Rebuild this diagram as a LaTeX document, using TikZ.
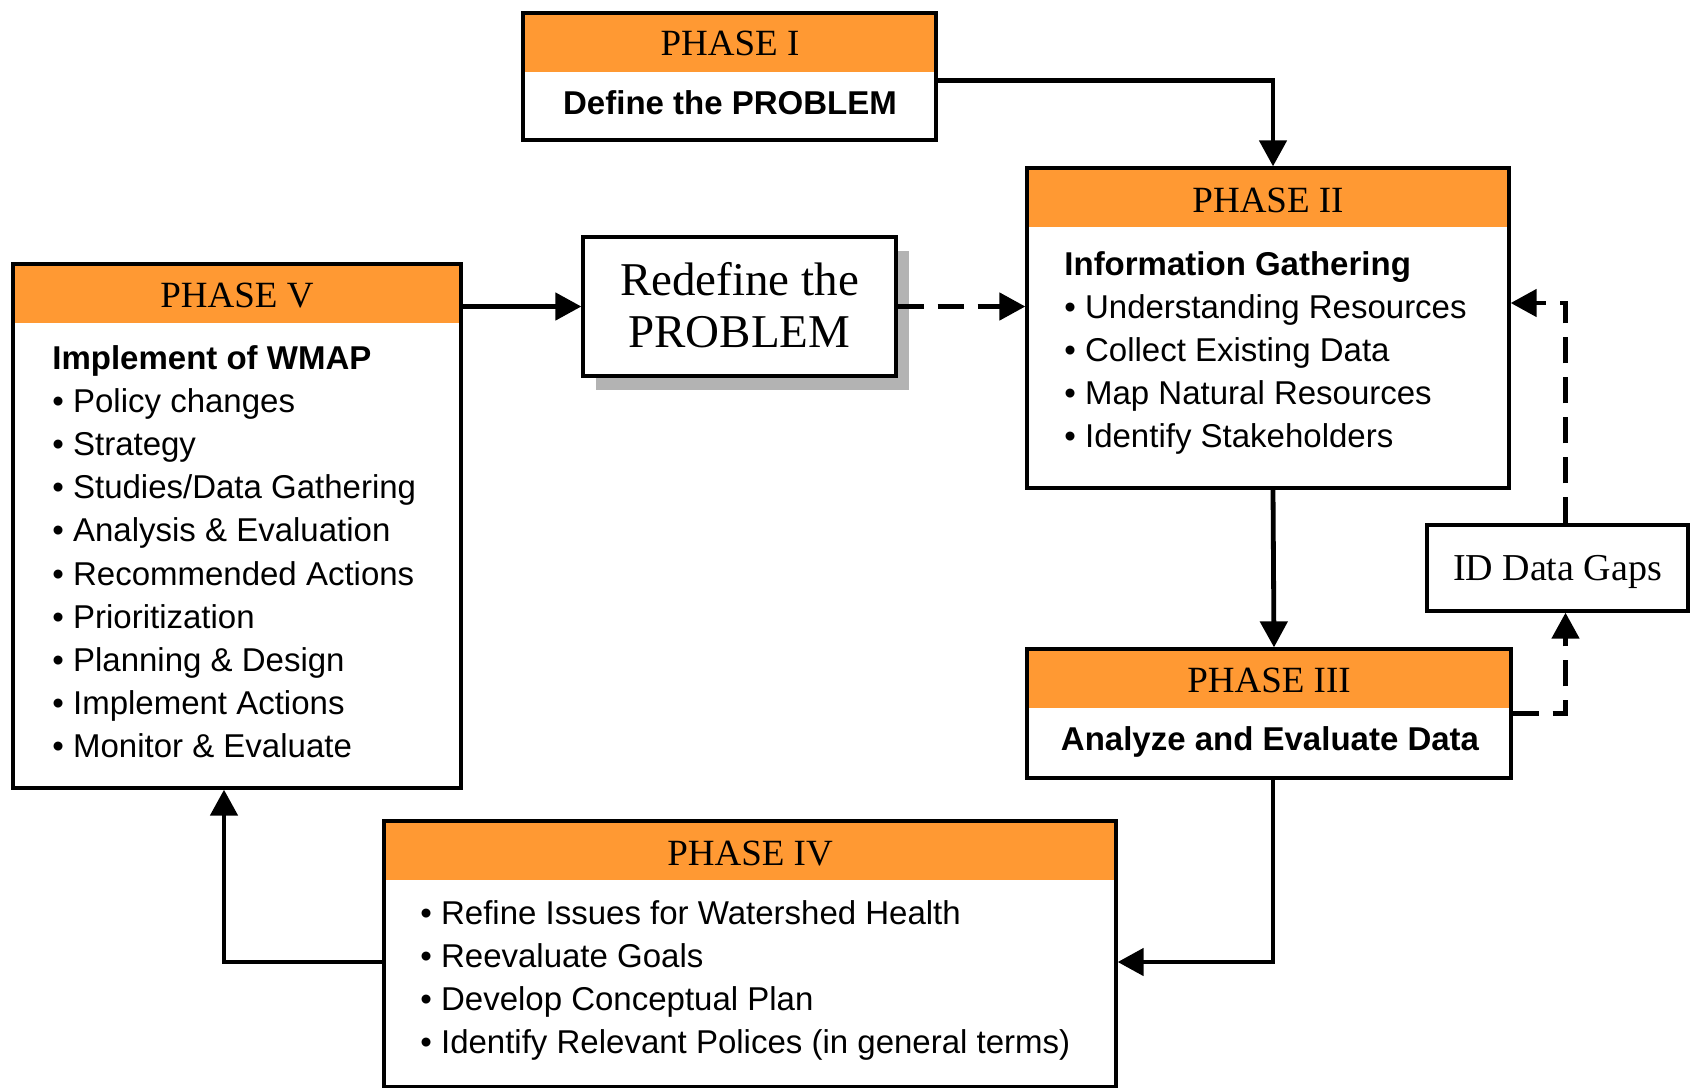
\documentclass[tikz,border=0pt]{standalone}
\usepackage{fontspec}
\setmainfont{Liberation Serif}
\setsansfont{Liberation Sans}
\usetikzlibrary{arrows.meta,shadows}
\definecolor{phaseorange}{RGB}{255,153,51}
\definecolor{shadowgray}{RGB}{179,179,179}

\begin{document}
\begin{tikzpicture}[x=0.5pt,y=-0.5pt,
    phasebox/.style={draw, line width=1.65pt, inner sep=0pt,
      path picture={\fill[phaseorange] (path picture bounding box.north west)
        rectangle ([yshift=-29.5pt]path picture bounding box.north east);}},
    plainbox/.style={draw, line width=1.65pt, inner sep=0pt, fill=white},
    phasehead/.style={anchor=base, inner sep=0pt, font=\fontsize{18.5}{20}\selectfont},
    bodybold/.style={anchor=base west, inner sep=0pt, font=\sffamily\bfseries\fontsize{16.5}{20}\selectfont},
    bodyitem/.style={anchor=base west, inner sep=0pt, font=\sffamily\fontsize{16.5}{20}\selectfont},
    arr/.style={line width=2.4pt, -{Triangle[length=13pt,width=13.5pt]}},
    darr/.style={arr, dash pattern=on 13pt off 7pt}]
    \useasboundingbox (0,0) rectangle (1690,1087);

    % phase I
    \node[phasebox, minimum width=206.5pt, minimum height=63.5pt] (p1) at (729.5,76.5) {};
    \node[phasehead] (p1h) at (730,55) {PHASE I};
    \node[bodybold, anchor=base] (p1b) at (730,114) {Define the PROBLEM};

    % phase II
    \node[phasebox, minimum width=241pt, minimum height=160pt] (p2) at (1268,328) {};
    \node[phasehead] (p2h) at (1268,212) {PHASE II};
    \node[bodybold] (p2b) at (1064,275) {Information Gathering};
    \foreach \t [count=\i] in {Understanding Resources, Collect Existing Data,
        Map Natural Resources, Identify Stakeholders}
        \node[bodyitem] (p2-\i) at (1064,{275+43.2*\i}) {\textbullet\ \t};

    % phase III
    \node[phasebox, minimum width=242pt, minimum height=64.5pt] (p3) at (1269,713.5) {};
    \node[phasehead] (p3h) at (1269,692) {PHASE III};
    \node[bodybold, anchor=base] (p3b) at (1270,750) {Analyze and Evaluate Data};

    % phase IV
    \node[phasebox, minimum width=366pt, minimum height=133pt] (p4) at (750,954) {};
    \node[phasehead] (p4h) at (750,865) {PHASE IV};
    \foreach \t [count=\i] in {Refine Issues for Watershed Health, Reevaluate Goals,
        Develop Conceptual Plan, Identify Relevant Polices (in general terms)}
        \node[bodyitem] (p4-\i) at (420,{880.8+43.2*\i}) {\textbullet\ \t};

    % phase V
    \node[phasebox, minimum width=224pt, minimum height=262pt] (p5) at (237,526) {};
    \node[phasehead] (p5h) at (237,307) {PHASE V};
    \node[bodybold] (p5b) at (52,369) {Implement of WMAP};
    \foreach \t [count=\i] in {Policy changes, Strategy, Studies/Data Gathering,
        Analysis \& Evaluation, Recommended Actions, Prioritization,
        Planning \& Design, Implement Actions, Monitor \& Evaluate}
        \node[bodyitem] (p5-\i) at (52,{369+43.2*\i}) {\textbullet\ \t};

    % side boxes
    \node[plainbox, minimum width=156.5pt, minimum height=69.5pt,
        drop shadow={shadow xshift=6.5pt, shadow yshift=-7pt, fill=shadowgray, opacity=1}] (redef) at (739.5,306.5) {};
    \node[anchor=base, inner sep=0pt, font=\fontsize{23.5}{25}\selectfont] (redef1) at (739.5,295) {Redefine the};
    \node[anchor=base, inner sep=0pt, font=\fontsize{23.5}{25}\selectfont] (redef2) at (739.5,347) {PROBLEM};
    \node[plainbox, minimum width=130.5pt, minimum height=43pt] (gaps) at (1557.5,568) {};
    \node[anchor=base, inner sep=0pt, font=\fontsize{19}{21}\selectfont] (gapst) at (1557.5,580) {ID Data Gaps};

    % connectors
    \draw[arr] ([yshift=-2pt]p1.east) -| ([xshift=2.5pt]p2.north);
    \draw[arr] (redef.west -| p5.east) -- (redef.west);
    \draw[darr] (redef.east) -- (redef.east -| p2.west);
    \draw[arr] ([xshift=2.5pt]p2.south) -- ([xshift=2.5pt]p3.north);
    \draw[darr] (p3.east) -| ([xshift=4pt]gaps.south);
    \draw[darr] ([xshift=4pt]gaps.north) |- ([yshift=12.5pt]p2.east);
    \draw[arr] ([xshift=2pt]p3.south) |- ([yshift=-4pt]p4.east);
    \draw[arr] ([yshift=-4pt]p4.west) -| ([xshift=-6.5pt]p5.south);
\end{tikzpicture}
\end{document}
